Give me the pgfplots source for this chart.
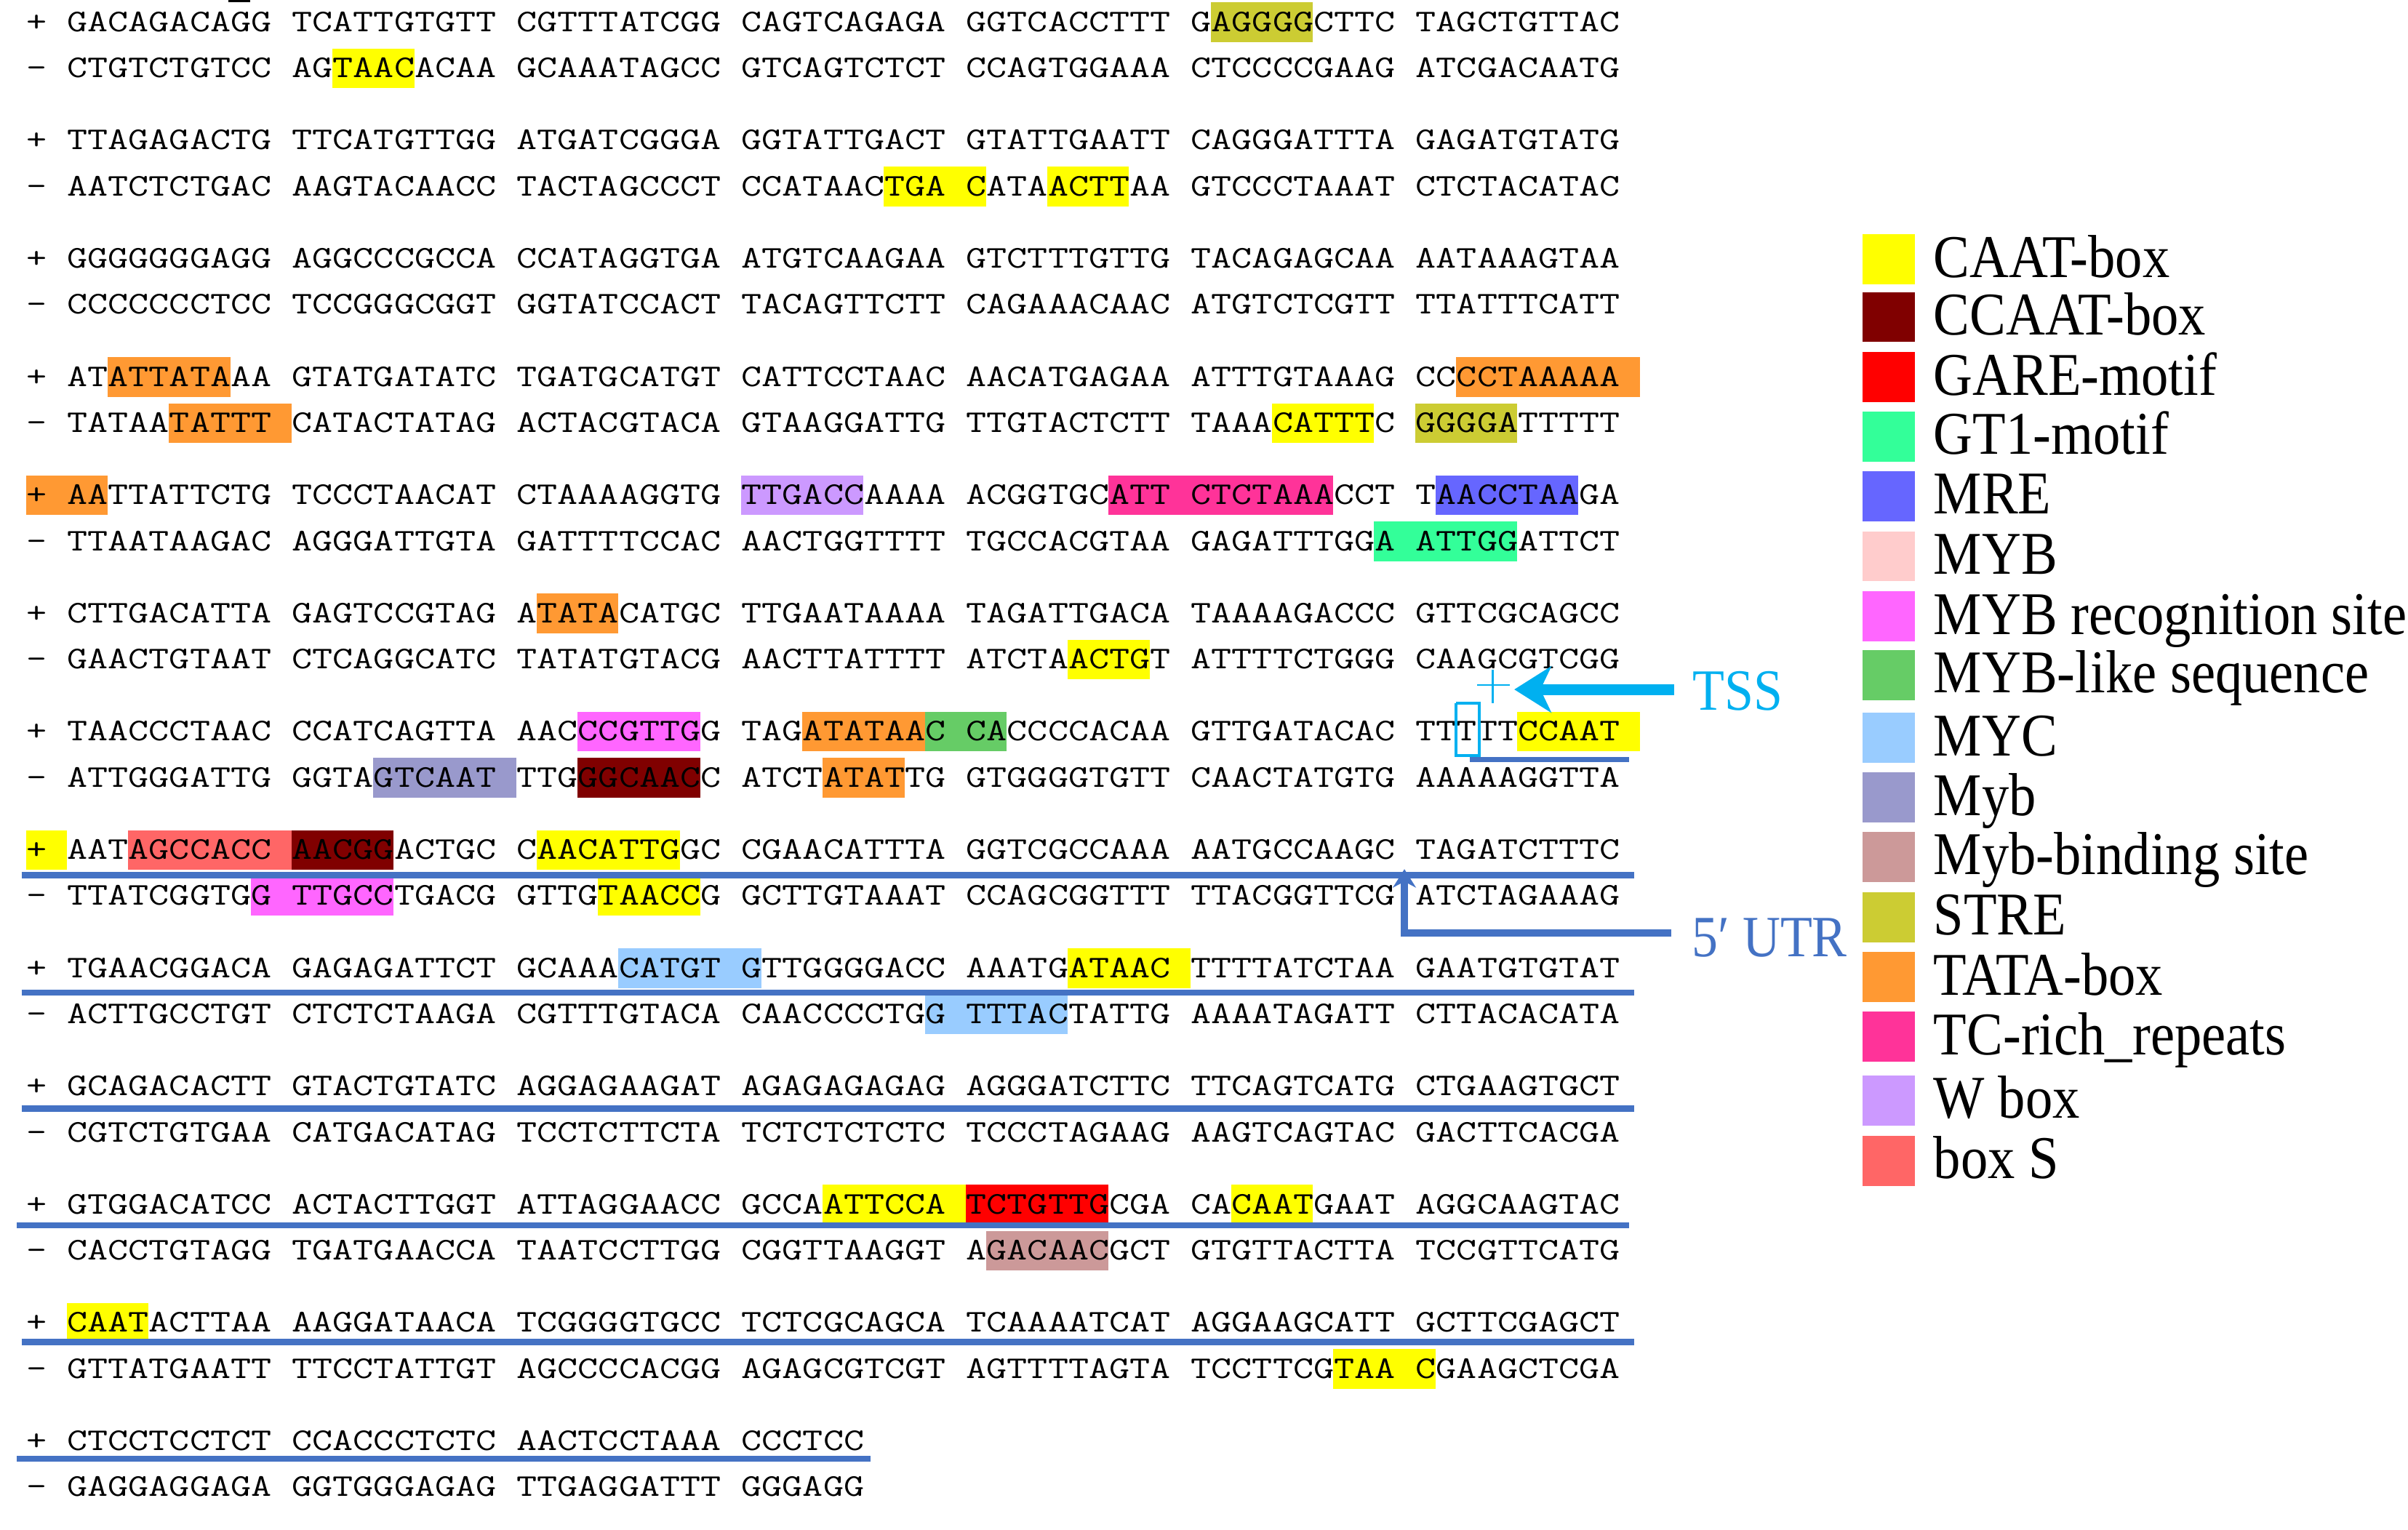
\documentclass[border=0pt]{standalone}
\usepackage{fontspec}
\usepackage{graphicx}
\usepackage{pgfplots}
\pgfplotsset{compat=1.18}
\usetikzlibrary{arrows.meta}
\newfontfamily\legfont{Liberation Serif}
\definecolor{cCAAT}{HTML}{FFFF00}
\definecolor{cCCAAT}{HTML}{800000}
\definecolor{cGARE}{HTML}{FF0000}
\definecolor{cGT}{HTML}{33FF99}
\definecolor{cMRE}{HTML}{6666FF}
\definecolor{cMYB}{HTML}{FFCCCC}
\definecolor{cMYBrec}{HTML}{FF66FF}
\definecolor{cMYBlike}{HTML}{66CC66}
\definecolor{cMYC}{HTML}{99CCFF}
\definecolor{cMyb}{HTML}{9999CC}
\definecolor{cMybbind}{HTML}{CC9999}
\definecolor{cSTRE}{HTML}{CCCC33}
\definecolor{cTATA}{HTML}{FF9933}
\definecolor{cTC}{HTML}{FF3399}
\definecolor{cW}{HTML}{CC99FF}
\definecolor{cS}{HTML}{FF6666}
\definecolor{tssc}{HTML}{00B0F0}
\definecolor{utrc}{HTML}{4472C4}
\newcommand{\seqtxt}[1]{\scalebox{1.2541}[1]{\fontsize{20.6}{24}\selectfont\ttfamily #1}}
\newcommand{\legtxt}[1]{\scalebox{1}[1.12]{\fontsize{35.3}{40}\selectfont\legfont #1}}
% highlight: colour, line centre, first cell, end cell
\newcommand{\hl}[4]{%
  \pgfmathsetmacro{\ytop}{#2-12.4}\pgfmathsetmacro{\ybot}{#2+13.4}%
  \edef\tmp{\noexpand\addplot[draw=none,fill=#1,forget plot] coordinates {(#3,\ytop) (#4,\ytop) (#4,\ybot) (#3,\ybot)};}\tmp}
% legend square: colour, centre
\newcommand{\lsq}[3]{%
  \pgfmathsetmacro{\ytop}{#2-16.3}\pgfmathsetmacro{\ybot}{#2+16.3}\pgfmathsetmacro{\ybase}{#2+11.5}%
  \edef\tmp{\noexpand\addplot[draw=none,fill=#1,forget plot] coordinates {(89.925,\ytop) (92.481,\ytop) (92.481,\ybot) (89.925,\ybot)};
  \noexpand\node[anchor=base west,inner sep=0pt] at (axis cs:93.383,\ybase) {\noexpand\legtxt{#3}};}\tmp}
\begin{document}
\begin{tikzpicture}
\begin{axis}[
  width=1568pt, height=996pt, scale only axis,
  xmin=-1.278195, xmax=116.6165, ymin=0, ymax=996, y dir=reverse,
  axis line style={draw=none}, ticks=none, clip=false,
]
% highlights
\hl{cSTRE}{14}{58}{63}
\hl{cCAAT}{44}{15}{19}
\hl{cCAAT}{121}{42}{47}
\hl{cCAAT}{121}{50}{54}
\hl{cTATA}{245}{4}{10}
\hl{cTATA}{245}{70}{79}
\hl{cTATA}{275}{7}{13}
\hl{cCAAT}{275}{61}{66}
\hl{cSTRE}{275}{68}{73}
\hl{cTATA}{322}{0}{4}
\hl{cW}{322}{35}{41}
\hl{cTC}{322}{53}{64}
\hl{cMRE}{322}{69}{76}
\hl{cGT}{352}{66}{73}
\hl{cTATA}{399}{25}{29}
\hl{cCAAT}{429}{51}{55}
\hl{cMYBrec}{476}{27}{33}
\hl{cTATA}{476}{38}{44}
\hl{cMYBlike}{476}{44}{48}
\hl{cCAAT}{476}{73}{79}
\hl{cMyb}{506}{17}{24}
\hl{cCCAAT}{506}{27}{33}
\hl{cTATA}{506}{39}{43}
\hl{cCAAT}{553}{0}{2}
\hl{cS}{553}{5}{13}
\hl{cCCAAT}{553}{13}{18}
\hl{cCAAT}{553}{25}{32}
\hl{cMYBrec}{583}{11}{18}
\hl{cCAAT}{583}{28}{33}
\hl{cMYC}{630}{29}{36}
\hl{cCAAT}{630}{51}{57}
\hl{cMYC}{660}{44}{51}
\hl{cCAAT}{784}{39}{46}
\hl{cGARE}{784}{46}{53}
\hl{cCAAT}{784}{59}{63}
\hl{cMybbind}{814}{47}{53}
\hl{cCAAT}{861}{2}{6}
\hl{cCAAT}{891}{64}{69}
% underlines
\addplot[utrc, line width=3.5pt, forget plot] coordinates {(70.677,494.5) (78.496,494.5)};
\addplot[utrc, line width=4pt, forget plot] coordinates {(-0.2256,570) (78.722,570)};
\addplot[utrc, line width=4pt, forget plot] coordinates {(-0.2256,646.5) (78.722,646.5)};
\addplot[utrc, line width=4pt, forget plot] coordinates {(-0.2256,722) (78.722,722)};
\addplot[utrc, line width=4pt, forget plot] coordinates {(-0.451,798) (78.496,798)};
\addplot[utrc, line width=4pt, forget plot] coordinates {(-0.2256,874) (78.722,874)};
\addplot[utrc, line width=4pt, forget plot] coordinates {(-0.451,950) (41.353,950)};
% small mark at the top
\addplot[black, line width=1.5pt, forget plot] coordinates {(9.92,0.8) (10.98,0.8)};
% sequences
\node[anchor=base west,inner sep=0pt] at (axis cs:0,20.5) {\seqtxt{+ GACAGACAGG TCATTGTGTT CGTTTATCGG CAGTCAGAGA GGTCACCTTT GAGGGGCTTC TAGCTGTTAC}};
\node[anchor=base west,inner sep=0pt] at (axis cs:0,50.5) {\seqtxt{- CTGTCTGTCC AGTAACACAA GCAAATAGCC GTCAGTCTCT CCAGTGGAAA CTCCCCGAAG ATCGACAATG}};
\node[anchor=base west,inner sep=0pt] at (axis cs:0,97.5) {\seqtxt{+ TTAGAGACTG TTCATGTTGG ATGATCGGGA GGTATTGACT GTATTGAATT CAGGGATTTA GAGATGTATG}};
\node[anchor=base west,inner sep=0pt] at (axis cs:0,127.5) {\seqtxt{- AATCTCTGAC AAGTACAACC TACTAGCCCT CCATAACTGA CATAACTTAA GTCCCTAAAT CTCTACATAC}};
\node[anchor=base west,inner sep=0pt] at (axis cs:0,174.5) {\seqtxt{+ GGGGGGGAGG AGGCCCGCCA CCATAGGTGA ATGTCAAGAA GTCTTTGTTG TACAGAGCAA AATAAAGTAA}};
\node[anchor=base west,inner sep=0pt] at (axis cs:0,204.5) {\seqtxt{- CCCCCCCTCC TCCGGGCGGT GGTATCCACT TACAGTTCTT CAGAAACAAC ATGTCTCGTT TTATTTCATT}};
\node[anchor=base west,inner sep=0pt] at (axis cs:0,251.5) {\seqtxt{+ ATATTATAAA GTATGATATC TGATGCATGT CATTCCTAAC AACATGAGAA ATTTGTAAAG CCCCTAAAAA}};
\node[anchor=base west,inner sep=0pt] at (axis cs:0,281.5) {\seqtxt{- TATAATATTT CATACTATAG ACTACGTACA GTAAGGATTG TTGTACTCTT TAAACATTTC GGGGATTTTT}};
\node[anchor=base west,inner sep=0pt] at (axis cs:0,328.5) {\seqtxt{+ AATTATTCTG TCCCTAACAT CTAAAAGGTG TTGACCAAAA ACGGTGCATT CTCTAAACCT TAACCTAAGA}};
\node[anchor=base west,inner sep=0pt] at (axis cs:0,358.5) {\seqtxt{- TTAATAAGAC AGGGATTGTA GATTTTCCAC AACTGGTTTT TGCCACGTAA GAGATTTGGA ATTGGATTCT}};
\node[anchor=base west,inner sep=0pt] at (axis cs:0,405.5) {\seqtxt{+ CTTGACATTA GAGTCCGTAG ATATACATGC TTGAATAAAA TAGATTGACA TAAAAGACCC GTTCGCAGCC}};
\node[anchor=base west,inner sep=0pt] at (axis cs:0,435.5) {\seqtxt{- GAACTGTAAT CTCAGGCATC TATATGTACG AACTTATTTT ATCTAACTGT ATTTTCTGGG CAAGCGTCGG}};
\node[anchor=base west,inner sep=0pt] at (axis cs:0,482.5) {\seqtxt{+ TAACCCTAAC CCATCAGTTA AACCCGTTGG TAGATATAAC CACCCCACAA GTTGATACAC TTTTTCCAAT}};
\node[anchor=base west,inner sep=0pt] at (axis cs:0,512.5) {\seqtxt{- ATTGGGATTG GGTAGTCAAT TTGGGCAACC ATCTATATTG GTGGGGTGTT CAACTATGTG AAAAAGGTTA}};
\node[anchor=base west,inner sep=0pt] at (axis cs:0,559.5) {\seqtxt{+ AATAGCCACC AACGGACTGC CAACATTGGC CGAACATTTA GGTCGCCAAA AATGCCAAGC TAGATCTTTC}};
\node[anchor=base west,inner sep=0pt] at (axis cs:0,589.5) {\seqtxt{- TTATCGGTGG TTGCCTGACG GTTGTAACCG GCTTGTAAAT CCAGCGGTTT TTACGGTTCG ATCTAGAAAG}};
\node[anchor=base west,inner sep=0pt] at (axis cs:0,636.5) {\seqtxt{+ TGAACGGACA GAGAGATTCT GCAAACATGT GTTGGGGACC AAATGATAAC TTTTATCTAA GAATGTGTAT}};
\node[anchor=base west,inner sep=0pt] at (axis cs:0,666.5) {\seqtxt{- ACTTGCCTGT CTCTCTAAGA CGTTTGTACA CAACCCCTGG TTTACTATTG AAAATAGATT CTTACACATA}};
\node[anchor=base west,inner sep=0pt] at (axis cs:0,713.5) {\seqtxt{+ GCAGACACTT GTACTGTATC AGGAGAAGAT AGAGAGAGAG AGGGATCTTC TTCAGTCATG CTGAAGTGCT}};
\node[anchor=base west,inner sep=0pt] at (axis cs:0,743.5) {\seqtxt{- CGTCTGTGAA CATGACATAG TCCTCTTCTA TCTCTCTCTC TCCCTAGAAG AAGTCAGTAC GACTTCACGA}};
\node[anchor=base west,inner sep=0pt] at (axis cs:0,790.5) {\seqtxt{+ GTGGACATCC ACTACTTGGT ATTAGGAACC GCCAATTCCA TCTGTTGCGA CACAATGAAT AGGCAAGTAC}};
\node[anchor=base west,inner sep=0pt] at (axis cs:0,820.5) {\seqtxt{- CACCTGTAGG TGATGAACCA TAATCCTTGG CGGTTAAGGT AGACAACGCT GTGTTACTTA TCCGTTCATG}};
\node[anchor=base west,inner sep=0pt] at (axis cs:0,867.5) {\seqtxt{+ CAATACTTAA AAGGATAACA TCGGGGTGCC TCTCGCAGCA TCAAAATCAT AGGAAGCATT GCTTCGAGCT}};
\node[anchor=base west,inner sep=0pt] at (axis cs:0,897.5) {\seqtxt{- GTTATGAATT TTCCTATTGT AGCCCCACGG AGAGCGTCGT AGTTTTAGTA TCCTTCGTAA CGAAGCTCGA}};
\node[anchor=base west,inner sep=0pt] at (axis cs:0,944.5) {\seqtxt{+ CTCCTCCTCT CCACCCTCTC AACTCCTAAA CCCTCC}};
\node[anchor=base west,inner sep=0pt] at (axis cs:0,974.5) {\seqtxt{- GAGGAGGAGA GGTGGGAGAG TTGAGGATTT GGGAGG}};
% TSS marks
\addplot[tssc, line width=2pt, forget plot] coordinates {(70,458) (71.15,458) (71.15,492) (70,492) (70,458)};
\addplot[tssc, line width=1.2pt, forget plot] coordinates {(71.805,436) (71.805,458)};
\addplot[tssc, line width=1.2pt, forget plot] coordinates {(71.05,446) (72.63,446)};
\addplot[tssc, line width=7pt, -{Stealth[length=24pt,width=30pt,inset=7pt]}, forget plot] coordinates {(80.68,449) (72.86,449)};
\node[anchor=base west,inner sep=0pt,text=tssc] at (axis cs:81.58,462.5) {\scalebox{1}[1.12]{\fontsize{34}{40}\selectfont\legfont TSS}};
% 5' UTR arrow
\addplot[utrc, line width=4.5pt, line join=miter, -{Stealth[length=12pt,width=15pt]}, forget plot] coordinates {(80.53,607.5) (67.48,607.5) (67.48,566)};
\node[anchor=base west,inner sep=0pt,text=utrc] at (axis cs:81.55,623) {\scalebox{1}[1.12]{\fontsize{34}{40}\selectfont\legfont 5′ UTR}};
% legend
\lsq{cCAAT}{169.0}{CAAT-box}
\lsq{cCCAAT}{206.5}{CCAAT-box}
\lsq{cGARE}{245.7}{GARE-motif}
\lsq{cGT}{284.4}{GT1-motif}
\lsq{cMRE}{323.2}{MRE}
\lsq{cMYB}{362.3}{MYB}
\lsq{cMYBrec}{401.5}{MYB recognition site}
\lsq{cMYBlike}{439.8}{MYB-like sequence}
\lsq{cMYC}{480.6}{MYC}
\lsq{cMyb}{519.4}{Myb}
\lsq{cMybbind}{558.1}{Myb-binding site}
\lsq{cSTRE}{597.4}{STRE}
\lsq{cTATA}{636.4}{TATA-box}
\lsq{cTC}{675.2}{TC-rich\_repeats}
\lsq{cW}{716.8}{W box}
\lsq{cS}{756.0}{box S}
\end{axis}
\pgfresetboundingbox
\path[use as bounding box] (current axis.south west) rectangle (current axis.north east);
\end{tikzpicture}
\end{document}
